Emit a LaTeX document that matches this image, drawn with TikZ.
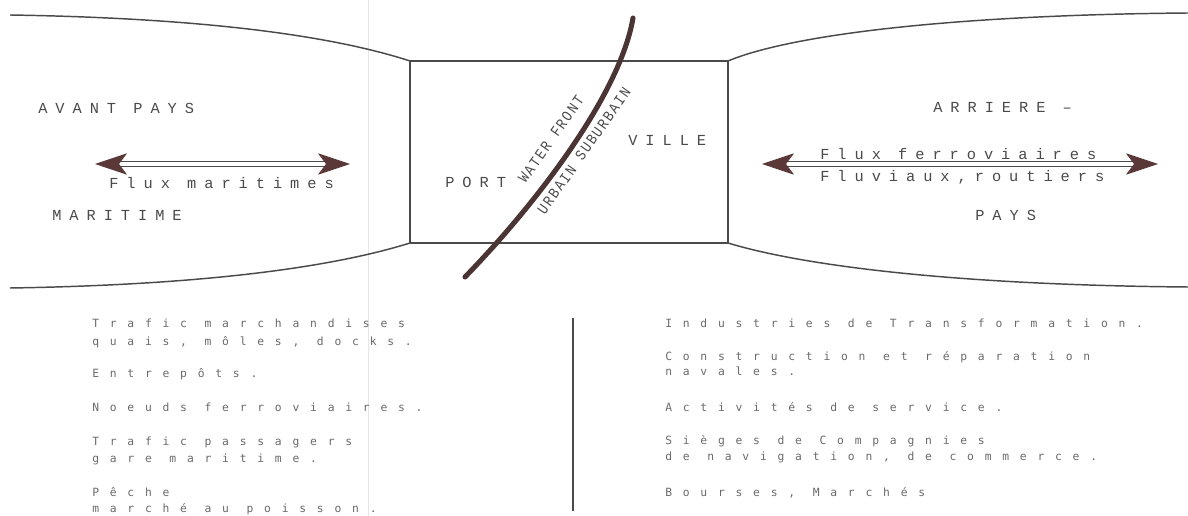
\documentclass[tikz,border=0pt]{standalone}
\usepackage{fontspec}
\usetikzlibrary{arrows.meta,calc}
\newfontfamily\typefont[LetterSpace=52]{Liberation Mono}
\newfontfamily\slimfont[LetterSpace=12, FakeStretch=0.85]{Liberation Mono}
\newfontfamily\dotfont[LetterSpace=95]{DejaVu Sans Mono}
\definecolor{scanink}{HTML}{4A4A4A}
\definecolor{scanfold}{HTML}{E6E6E6}
\definecolor{frontbrown}{HTML}{4B3434}
\definecolor{tipbrown}{HTML}{5A3838}
\definecolor{dotgray}{HTML}{6A6A6A}
\tikzset{
  outline/.style={draw=scanink, line width=1.1pt},
  front/.style={draw=frontbrown, line width=3.8pt, line cap=round},
  flux/.style={{Stealth[length=24pt,width=16pt,inset=6pt,color=tipbrown]}-{Stealth[length=24pt,width=16pt,inset=6pt,color=tipbrown]},
    draw=scanink, line width=0.7pt, double=white, double distance=3pt},
  place/.style={font=\typefont\fontsize{11.5}{13}\selectfont, text=scanink,
    inner sep=0pt, anchor=west},
  edge/.style={font=\slimfont\fontsize{11.5}{13}\selectfont, text=scanink,
    inner sep=0pt, rotate=55},
  activity/.style={font=\dotfont\fontsize{8.5}{9}\selectfont, text=dotgray,
    inner sep=0pt, anchor=base west},
  divider/.style={draw=scanink, line width=0.8pt},
}
\begin{document}
\begin{tikzpicture}[x=0.75pt, y=-0.75pt]
\useasboundingbox (0,0) rectangle (1188,516);

% fold of the scanned page
\draw[scanfold, line width=0.6pt] (368,0) -- (368,516);

% avant pays, port-ville, arriere pays
\draw[outline] (10,15) .. controls (200,18) and (330,35) .. (410,61);
\draw[outline] (410,243) .. controls (330,268) and (200,285) .. (10,288);
\draw[outline] (410,61) rectangle (728,243);
\draw[outline] (728,61) .. controls (790,35) and (950,15) .. (1188,13);
\draw[outline] (728,243) .. controls (800,265) and (950,285) .. (1188,287);

\draw[front] (633,18) .. controls (620,95) and (535,205) .. (465,277);

\node[place] (avant) at (38,108) {AVANT PAYS};
\node[place] (maritime) at (52,215) {MARITIME};
\node[place] (fluxmar) at (109,183) {Flux maritimes};

\node[place] (port) at (445,182) {PORT};
\node[place] (ville) at (628,140) {VILLE};
\node[edge] (water) at (551,139) {WATER FRONT};
\node[edge] (urbain) at (584,151) {URBAIN SUBURBAIN};

\node[place] (arriere) at (933,107) {ARRIERE –};
\node[place] (pays) at (975,215) {PAYS};
\node[place] (fluxfer) at (820,154) {Flux ferroviaires};
\node[place] (fluxflu) at (820,177) {Fluviaux,routiers};

\coordinate (mar-w) at (95,164);
\coordinate (mar-e) at (350,164);
\coordinate (ter-w) at (762,164);
\coordinate (ter-e) at (1158,164);
\draw[flux] (mar-w) -- (mar-e);
\draw[flux] (ter-w) -- (ter-e);

% activites du port / de la ville
\foreach \y/\txt [count=\i] in {328/Trafic marchandises, 346/{quais, môles, docks.},
    378/Entrepôts., 411/Noeuds ferroviaires., 445/Trafic passagers,
    462/gare maritime., 496/Pêche, 512/marché au poisson.}
  \node[activity] (port\i) at (92,\y) {\txt};

\foreach \y/\txt [count=\i] in {328/Industries de Transformation.,
    360/Construction et réparation, 376/navales., 411/Activités de service.,
    444/Sièges de Compagnies, 460/{de navigation, de commerce.},
    496/{Bourses, Marchés}}
  \node[activity] (ville\i) at (665,\y) {\txt};

\coordinate (div-n) at (573,318);
\coordinate (div-s) at (573,511);
\draw[divider] (div-n) -- (div-s);

\end{tikzpicture}
\end{document}
